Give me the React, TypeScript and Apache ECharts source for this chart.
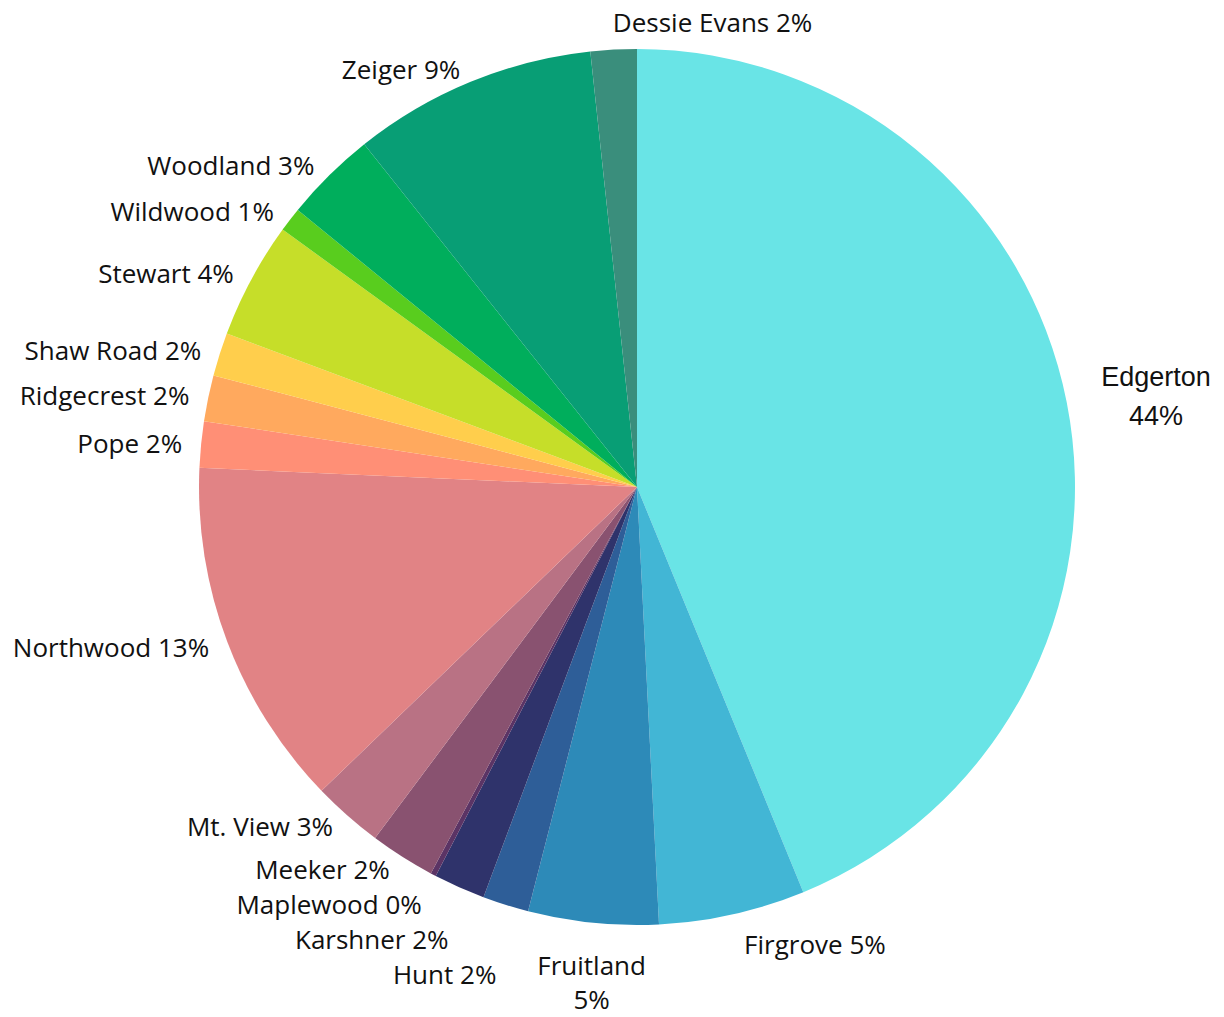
import React, { useEffect, useRef } from 'react';
import * as echarts from 'echarts';

const categories = [
  'Edgerton', 'Firgrove', 'Fruitland', 'Hunt', 'Karshner', 'Maplewood', 'Meeker', 'Mt. View',
  'Northwood', 'Pope', 'Ridgecrest', 'Shaw Road', 'Stewart', 'Wildwood', 'Woodland', 'Zeiger', 'Dessie Evans',
];
const shares = [43.8, 5.4, 4.8, 1.7, 1.9, 0.2, 2.4, 2.6, 12.9, 1.7, 1.7, 1.6, 4.3, 0.9, 3.4, 9.0, 1.7];
const sliceColors = [
  '#69E4E6', '#42B6D5', '#2D8AB8', '#2E5E98', '#2F336B', '#5B3465', '#895270', '#B97284',
  '#E18385', '#FF8F76', '#FFA95E', '#FFCE4C', '#C6DE29', '#59CD1E', '#00AE5C', '#089E75', '#3A8E7C',
];
// labels that are drawn on two lines, with the rich style they use
const twoLineLabels: Record<string, string> = { Edgerton: 'arial', Fruitland: 'wrapped' };

export default function App() {
  const ref = useRef<HTMLDivElement>(null);

  useEffect(() => {
    if (!ref.current) return;
    const chart = echarts.init(ref.current, undefined, { renderer: 'svg' });
    chart.setOption({
      animation: false,
      backgroundColor: '#ffffff',
      series: [
        {
          type: 'pie',
          center: [637, 487],
          radius: 438,
          startAngle: 90,
          clockwise: true,
          avoidLabelOverlap: false,
          percentPrecision: 2,
          emphasis: { disabled: true },
          data: categories.map((name, i) => ({
            name,
            value: shares[i],
            itemStyle: { color: sliceColors[i] },
          })),
          label: {
            show: true,
            position: 'outside',
            fontFamily: 'Open Sans',
            fontSize: 26,
            lineHeight: 35,
            color: '#111111',
            distanceToLabelLine: 5,
            formatter: (p: any) => {
              const pct = Math.round(p.percent);
              const style = twoLineLabels[p.name];
              if (style) return `{${style}|${p.name}}\n{${style}|${pct}%}`;
              return `${p.name} ${pct}%`;
            },
            rich: {
              arial: {
                fontFamily: 'Liberation Sans',
                fontSize: 27,
                lineHeight: 39,
                color: '#111111',
                align: 'center',
              },
              wrapped: {
                fontFamily: 'Open Sans',
                fontSize: 26,
                lineHeight: 34,
                color: '#111111',
                align: 'center',
              },
            },
          },
          labelLine: { show: true, length: 28, length2: 0, lineStyle: { opacity: 0 } },
          labelLayout: (p: any) => {
            const pts = p.labelLinePoints;
            if (!pts) return {};
            const [x0, y0] = pts[0];
            const [x1, y1] = pts[1];
            const len = Math.hypot(x1 - x0, y1 - y0) || 1;
            const ux = (x1 - x0) / len;
            const uy = (y1 - y0) / len;
            const side = ux < 0 ? -1 : 1;
            const gap = side < 0 ? 14 : 30;
            const ax = x0 + ux * gap;
            const ay = y0 + uy * gap;
            if (Math.abs(ux) < 0.15) {
              return uy > 0
                ? { x: ax, y: ay + 11, align: 'center', verticalAlign: 'top' }
                : { x: ax, y: ay + 4, align: 'left', verticalAlign: 'bottom' };
            }
            const out: any = {
              x: ax + side * 5,
              y: ay,
              align: side < 0 ? 'right' : 'left',
              verticalAlign: 'middle',
            };
            if (side < 0) out.moveOverlap = 'shiftY';
            return out;
          },
        },
      ],
    });
    return () => chart.dispose();
  }, []);

  return (
    <div
      ref={ref}
      style={{ position: 'fixed', left: 0, top: 0, width: 1224, height: 1017, background: '#fff' }}
    />
  );
}
